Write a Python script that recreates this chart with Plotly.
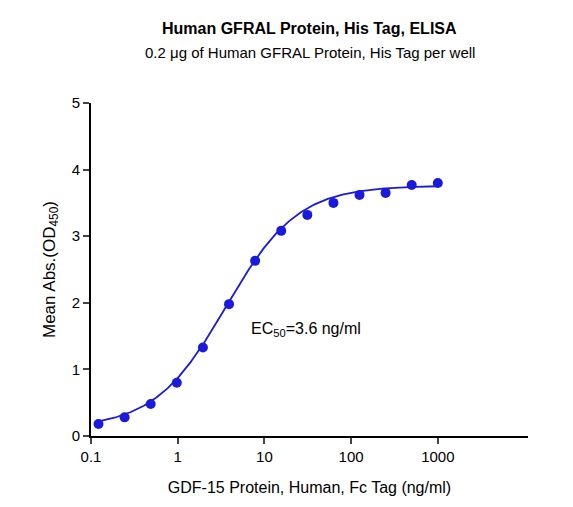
import numpy as np
import plotly.graph_objects as go

conc = [1000/2**n for n in range(13, -1, -1)]
od = [0.18, 0.28, 0.48, 0.80, 1.33, 1.98, 2.63, 3.08, 3.32, 3.50, 3.62, 3.65, 3.77, 3.80]
bottom, top, ec50, hill = 0.12, 3.76, 3.6, 1.05
x_ticks = [0.1, 1, 10, 100, 1000]
x_tick_labels = ["0.1", "1", "10", "100", "1000"]

xs = np.logspace(np.log10(conc[0]), np.log10(conc[-1]), 300)
ys = bottom + (top - bottom) / (1 + (ec50 / xs) ** hill)

blue = "#1a1adc"
fig = go.Figure()
fig.add_trace(go.Scatter(x=xs, y=ys, mode="lines", line=dict(color=blue, width=1.8), hoverinfo="skip"))
fig.add_trace(go.Scatter(x=conc, y=od, mode="markers", marker=dict(color=blue, size=10)))

fig.update_layout(
    width=573, height=507, margin=dict(l=83, r=53, t=95, b=79),
    plot_bgcolor="white", paper_bgcolor="white", showlegend=False,
    font=dict(family="Liberation Sans, Arial", color="black", size=15),
    annotations=[
        dict(text="<b>Human GFRAL Protein, His Tag, ELISA</b>", x=0.5, xref="paper",
             y=1 + (95 - 20) / 333, yref="paper", yanchor="middle",
             showarrow=False, font=dict(size=16)),
        dict(text="0.2 μg of Human GFRAL Protein, His Tag per well", xref="paper", x=0.5,
             y=1 + (95 - 44) / 333, yref="paper", yanchor="middle",
             showarrow=False, font=dict(size=15)),
        dict(text="EC<sub>50</sub>=3.6 ng/ml", x=np.log10(30), y=1.6, xref="x", yref="y",
             showarrow=False, font=dict(size=16)),
    ],
)

fig.update_xaxes(type="log", range=[-1, 4.04], tickvals=x_ticks, ticktext=x_tick_labels,
                 showline=True, linecolor="black", linewidth=2, ticks="outside", ticklen=6, tickwidth=2,
                 showgrid=False, zeroline=False, tickfont=dict(size=15),
                 title=dict(text="GDF-15 Protein, Human, Fc Tag (ng/ml)", font=dict(size=16), standoff=18))
fig.update_yaxes(range=[0, 5], dtick=1, showline=True, linecolor="black", linewidth=2,
                 ticks="outside", ticklen=6, tickwidth=2, showgrid=False, zeroline=False,
                 tickfont=dict(size=15),
                 title=dict(text="Mean Abs.(OD<sub>450</sub>)", font=dict(size=17), standoff=12))
fig.write_html("out.html")
